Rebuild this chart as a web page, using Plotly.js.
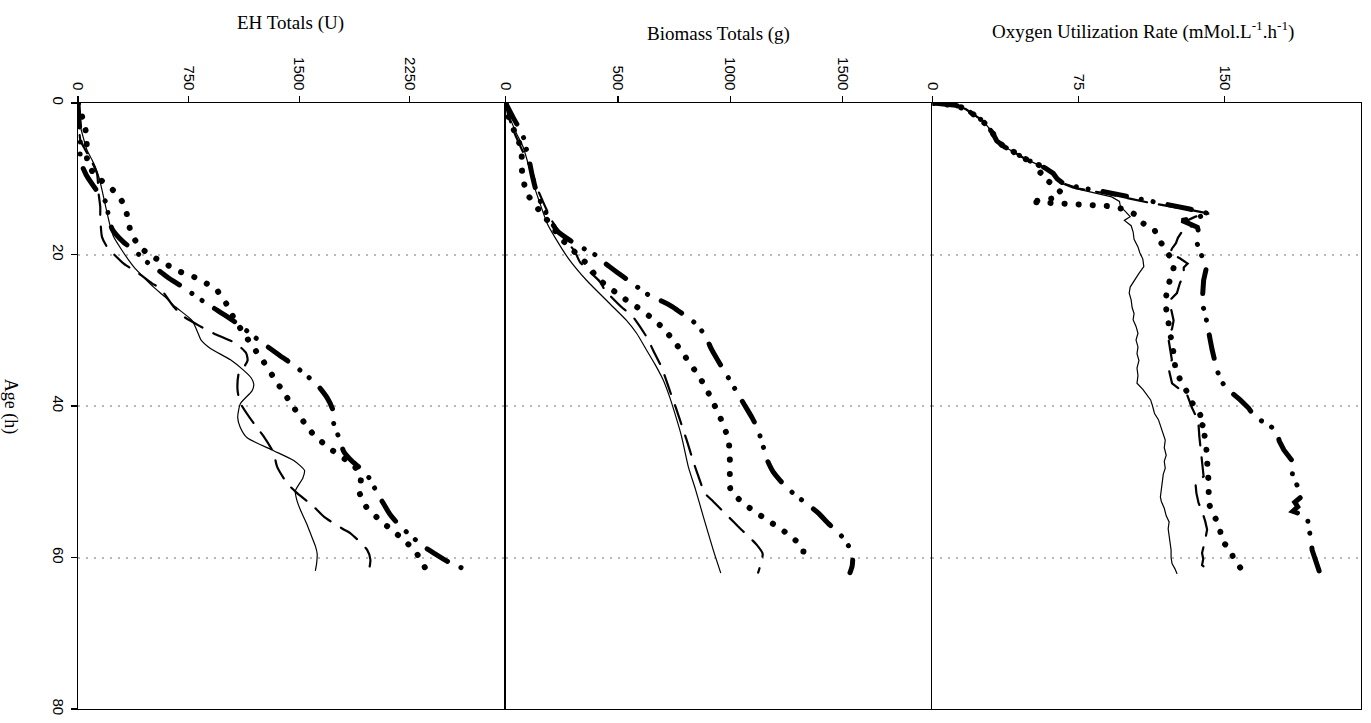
<!DOCTYPE html>
<html>
<head>
<meta charset="utf-8">
<script src="https://cdn.plot.ly/plotly-3.0.1.min.js"></script>
<style>
  html, body { margin: 0; padding: 0; background: #fff; }
  #chart { width: 1371px; height: 723px; }
  .scatterlayer path.js-line { stroke-linecap: round; }
</style>
</head>
<body>
<div id="chart"></div>
<script>
// ---------- Panel 1 : EH Totals (U) ----------
const ehAgeA = [0,1.5,3,4.5,6.2,7.5,8.4,10,11.5,13,14.5,16,17.6,19.5,21.6,23,24.3,25.6,26.9,28.7,30.2,31.3,32.4,33.9,35.3,36.3,37.1,38,39.7,41.5,42.8,44.2,45.9,47.2,48.5,49.5,51.2,52.5,53.8,55.5,56.9,58.5,59.5,60.8,61.7];
const ehA    = [0,5,15,35,61,95,117,145,163,180,197,215,240,300,377,445,513,590,660,773,810,835,898,1034,1124,1175,1192,1180,1101,1083,1100,1147,1327,1463,1536,1525,1474,1485,1510,1550,1578,1610,1622,1618,1610];
const ehAgeB = [0,2.5,4.9,6.2,7.8,9.3,12,13.7,15,17.7,19,20.1,21.2,22.5,23.8,24.5,26.9,28.2,29.5,30.6,31.7,33,34,35,35.7,37.9,39.6,42.3,44,46.2,48,50.2,51.5,53.3,54.6,56.3,56.8,59,60.3,62];
const ehB    = [0,5,16,50,95,129,140,151,151,163,197,250,310,411,502,559,649,717,831,940,1068,1140,1150,1120,1090,1082,1101,1192,1259,1327,1350,1418,1486,1599,1667,1802,1848,1961,1983,1970];
const ehAgeC = [0,2.5,4.6,6.3,8.35,10.1,11.5,13.45,15.4,17.3,19.2,20.4,21.3,22.2,22.8,23.6,24.6,26.5,28.5,30.3,32.2,34.2,36.1,38.1,40.2,42.1,43.9,45.3,46.6,47.7,49.4,51.4,53.3,54.9,56.3,57.7,59.3,61.3];
const ehC    = [0,38,61,56,72,151,237,314,339,362,430,518,599,683,769,850,936,1006,1060,1120,1187,1260,1323,1391,1463,1531,1603,1689,1775,1864,1918,1909,1954,2038,2124,2210,2291,2352];
const ehAgeD = [0,2,4.5,6,7.65,9.5,11.5,13.2,15,16.7,18.3,19.6,21,22,23.1,24,25.1,26.2,27.1,28.1,29.1,30.3,31.5,32.5,33.6,34.6,35.9,37.2,38.9,40.6,42.3,44.2,46,47.3,48.9,50.6,52.5,54.4,55.9,57.3,58.5,59.5,60.5,61.2,61.8];
const ehD    = [0,6,16,16,16,56,125,192,207,233,305,390,468,540,614,687,770,851,923,1004,1079,1160,1237,1310,1388,1463,1545,1622,1689,1730,1734,1770,1802,1859,1954,2005,2060,2119,2187,2268,2341,2420,2504,2581,2656];

// ---------- Panel 2 : Biomass Totals (g) ----------
const bmAgeA = [0,2,4,5.8,8,10.6,13,15.9,18,20.5,23.4,26.5,28.7,30.4,32.6,34.5,36.6,38.8,40.95,44,48,51,54.6,59,62];
const bmA    = [0,20,48,78,100,123,150,185,225,279,360,464,538,583,627,665,702,730,753,783,813,845,880,924,957];
const bmAgeB = [0,2,4,6,8.9,11.5,12.6,15.5,17.7,19.6,21,23.6,24.7,27.1,28,30.9,32.6,34.8,36.1,39.2,40.5,43.1,44.5,47.3,48.6,51.5,52.6,54.8,55.9,58.3,59.5,62];
const bmB    = [0,15,40,70,115,144,160,205,256,308,331,420,442,522,561,628,656,693,709,745,761,790,806,835,850,887,924,998,1035,1117,1144,1124];
const bmAgeC = [0,2,4.5,6.2,8.2,10.2,12.2,14.2,15.9,18,21.2,23.2,24.6,25.8,26.9,28.1,29.5,31.3,33.3,35.2,37.2,39.2,41.1,43.1,45,47,49,51,52.7,53.9,55,56.1,57.3,58.9,61];
const bmC    = [0,15,50,71,71,78,101,150,197,250,360,412,472,527,583,638,693,746,795,840,884,918,949,977,994,998,998,1001,1052,1107,1162,1218,1274,1325,1313];
const bmAgeD = [0,2,4.2,5.8,7.6,9.5,12,14.5,16.9,18.2,19.3,20.1,21.3,22.3,23.5,24.7,25.6,26.2,26.9,28.1,29.3,30.9,32.6,34.3,36.2,38.1,39.8,41.6,43.2,45.2,47.1,48.7,50.3,51.6,52.9,54.1,55.5,56.8,58.4,59.3,60.1,61.2,62];
const bmD    = [0,35,76,90,105,118,140,180,230,290,353,402,449,494,550,605,650,699,743,800,853,891,918,951,990,1028,1062,1098,1124,1145,1164,1191,1236,1283,1340,1391,1436,1485,1525,1540,1545,1542,1533];

// ---------- Panel 3 : Oxygen Utilization Rate ----------
const ouAgeA = [0,0.3,0.8,1.5,2.2,3,4,5,5.8,6.5,7.3,8,8.6,9.3,10,10.6,11.2,11.8,12.4,13,13.7,14.3,15,15.5,16.2,17,18,19,19.8,20.6,21.6,22.5,23.5,24.3,25.1,26,27,27.8,28.6,29.5,30.4,31.3,32.2,33.1,34,35,36,37,37.8,38.5,39.2,40,41,41.8,42.6,43.5,44.5,45.5,46.5,47.3,48.2,49,50,51,52,52.6,53.5,54.5,55.3,56.2,57,58,59,60,60.8,61.5,62.1];
const ouA    = [0.5,12,17,21,25,28,31,33,37,42,47,53,58,62,64,66,72,82,92,96,96.5,99,101.5,98.5,102,103,103.5,105.5,106.5,108,108.5,106,103.5,101.5,101,102,102.5,103.5,103,104.5,105.5,104.5,105.5,105,106,105,105.5,105,108,110,112,113,114,116,117,118.5,119.5,119,120,119,119.5,118.5,118,117.5,117,117.5,119,120,121.5,121,121.5,122,122.5,122.5,123,124.5,125.5];
const ouAgeB = [0,0.3,0.8,1.5,2.2,3,4,5,5.8,6.5,7.3,8,8.6,9.3,10,10.6,11.3,11.9,12.5,13.2,14,14.6,15,15.6,16.3,17,17.8,18.5,19.2,19.8,20.5,21.2,21.7,22.7,23.8,25.1,26,27.2,28.7,29.8,30.9,32.4,33.9,34.8,35.9,37,37.8,38.5,39.4,40.1,41.2,42.5,44,45.3,47.3,49.3,50.2,51.5,52.8,53.9,55.2,56.3,57.7,58.6,59.4,60.2,61,62.1];
const ouB    = [0.5,12,17,21,25,28,31,33,37,42,47,53,58,62,64,67,75,88,100,112,130,142,135,130,133,128,126,125,123,122,127,131,129,129,127,125.5,122,122.5,123.8,123,121,122,122.9,121,122,123,127,130.7,132,133,135,136.6,137,137.5,138.5,139.2,135,135.5,136.6,138.4,140,141,140,139,138.4,139,138.4,143.5];
const ouAgeC = [0,0.3,0.8,1.5,2.2,3,4,5,5.8,6.5,7.3,8,8.6,9.3,10.3,11,11.8,12.5,12.9,13.05,13.15,13.25,13.4,13.6,14,14.7,15.8,16.7,17.5,18.2,19.1,19.9,20.8,21.6,22.4,23.2,24,24.7,25.5,26.4,27.2,28,28.9,29.8,30.7,31.7,32.5,33.3,34,34.8,35.7,36.6,37.3,38.1,39,39.9,40.6,41.2,42.1,42.9,43.5,44.2,45,45.8,46.5,47.3,48.3,49.3,50.2,51.1,52,52.8,53.6,54.4,55.1,55.9,56.9,57.9,58.9,59.5,60.2,61,61.7];
const ouC    = [0.5,12,17,21,25,28,31,33,37,42,47,53,58,55,59,62,66,64,52,50,58,70,80,90,98,104,107.5,114,115,117,119,121,123,124,123,122,121,120.4,120,119.5,120,120.4,121,121.2,122,122.9,123.5,123.8,124,124.6,126,127.2,129,130.7,132.5,134,136.5,137.5,135.8,141,139.5,140,140.5,141,141,141,141.5,141.8,141.8,141.8,141.8,141.8,143,144.7,146,147.3,148,148.7,153,153.5,154.6,157,159];
const ouAgeD = [0,0.3,0.8,1.5,2.2,3,4,5,5.8,6.5,7.3,8,8.6,9.3,10,10.6,11.2,11.7,12.3,12.8,13.4,14,14.6,15.1,15.5,16,16.4,17,17.6,18.3,19,20.1,20.9,21.8,23.4,25,26.5,27.8,29.5,31.3,32.5,33.5,35.2,36.8,38.1,39.2,40.3,41.6,42.3,43.4,44.6,45.8,46.4,47.5,49.1,50.5,51.9,52.7,53.3,53.9,54.6,55.7,56.8,58,59,59.8,60.7,61.5,62.3];
const ouD    = [0.5,12,17,21,25,28,31,33,37,42,47,53,58,62,64,67,76,88,100,110,122,132,142,136,128,132,136,136.6,135.5,135.5,136.6,138.4,139,140.6,139.2,138.5,138.4,140,141,142.6,143.5,144.3,146,148.3,153,158,162.4,165.8,171.8,177,178,180.4,182,185.5,184.7,187,189.8,186,187.5,185,192.4,193,194,194.5,194.9,196,197.5,198,199.2];

// ---------- axis tick labels ----------
const ehTicks = [0, 750, 1500, 2250];
const bmTicks = [0, 500, 1000, 1500];
const ouTicks = [0, 75, 150];
const ageTicks = [0, 20, 40, 60, 80];

const styles = {
  A: {color: '#000', width: 1.2, dash: 'solid'},
  B: {color: '#000', width: 2.2, dash: '20px,12px'},
  C: {color: '#000', width: 6, dash: '0.1px,14px'},
  D: {color: '#000', width: 5, dash: '24px,15px,0.1px,12px,0.1px,15px'}
};

function tr(x, y, s, xa, ya, shape) {
  return {x: x, y: y, type: 'scatter', mode: 'lines', xaxis: xa, yaxis: ya,
          line: Object.assign({shape: shape, smoothing: 0.6}, styles[s]),
          hoverinfo: 'skip', showlegend: false};
}

const data = [
  tr(ehA, ehAgeA, 'A', 'x', 'y', 'spline'),
  tr(ehB, ehAgeB, 'B', 'x', 'y', 'spline'),
  tr(ehC, ehAgeC, 'C', 'x', 'y', 'spline'),
  tr(ehD, ehAgeD, 'D', 'x', 'y', 'spline'),
  tr(bmA, bmAgeA, 'A', 'x2', 'y2', 'spline'),
  tr(bmB, bmAgeB, 'B', 'x2', 'y2', 'spline'),
  tr(bmC, bmAgeC, 'C', 'x2', 'y2', 'spline'),
  tr(bmD, bmAgeD, 'D', 'x2', 'y2', 'spline'),
  tr(ouA, ouAgeA, 'A', 'x3', 'y3', 'linear'),
  tr(ouB, ouAgeB, 'B', 'x3', 'y3', 'linear'),
  tr(ouC, ouAgeC, 'C', 'x3', 'y3', 'linear'),
  tr(ouD, ouAgeD, 'D', 'x3', 'y3', 'linear')
];

const tickFont = {family: 'Liberation Sans, Arial, sans-serif', size: 15, color: '#000'};
function xax(domain, range, ticks, anchor) {
  return {domain: domain, range: range, side: 'top', anchor: anchor,
          tickvals: ticks, ticktext: ticks.map(String), tickangle: 90,
          ticks: 'outside', ticklen: 6, tickwidth: 1.3, tickcolor: '#000',
          showline: true, linecolor: '#000', linewidth: 1.3, mirror: true,
          showgrid: false, zeroline: false, tickfont: tickFont, fixedrange: true};
}
function yax(anchor, showLabels, mirror) {
  return {range: [80, 0], anchor: anchor, domain: [0, 1],
          tickvals: ageTicks, ticktext: ageTicks.map(String), tickangle: 90,
          ticks: showLabels ? 'outside' : '', ticklen: 6, tickwidth: 1.3, tickcolor: '#000',
          showticklabels: showLabels,
          showline: true, linecolor: '#000', linewidth: 1.3, mirror: mirror,
          showgrid: true, gridcolor: '#b8b8b8', gridwidth: 2, griddash: '2px,6px',
          zeroline: false, tickfont: tickFont, fixedrange: true};
}

const serif = 'Liberation Serif, Times New Roman, serif';
const layout = {
  width: 1371, height: 723,
  margin: {l: 78, r: 10, t: 103, b: 14},
  paper_bgcolor: '#fff', plot_bgcolor: '#fff',
  showlegend: false,
  xaxis: xax([0, 0.3333], [0, 2900], ehTicks, 'y'),
  xaxis2: xax([0.3333, 0.666], [0, 1900], bmTicks, 'y2'),
  xaxis3: xax([0.666, 1], [0, 220], ouTicks, 'y3'),
  yaxis: yax('x', true, false),
  yaxis2: yax('x2', false, false),
  yaxis3: yax('x3', false, true),
  annotations: [
    {text: 'EH Totals (U)', xref: 'paper', yref: 'paper', x: 0.166, y: 1.132,
     xanchor: 'center', yanchor: 'middle', showarrow: false, font: {family: serif, size: 19, color: '#000'}},
    {text: 'Biomass Totals (g)', xref: 'paper', yref: 'paper', x: 0.4996, y: 1.114,
     xanchor: 'center', yanchor: 'middle', showarrow: false, font: {family: serif, size: 19, color: '#000'}},
    {text: 'Oxygen Utilization Rate (mMol.L<sup>-1</sup>.h<sup>-1</sup>)', xref: 'paper', yref: 'paper', x: 0.830, y: 1.119,
     xanchor: 'center', yanchor: 'middle', showarrow: false, font: {family: serif, size: 19, color: '#000'}},
    {text: 'Age (h)', xref: 'paper', yref: 'paper', x: -0.052, y: 0.5, textangle: 90,
     xanchor: 'center', yanchor: 'middle', showarrow: false, font: {family: serif, size: 18, color: '#000'}}
  ]
};

Plotly.newPlot('chart', data, layout, {staticPlot: true, displayModeBar: false});
</script>
</body>
</html>
